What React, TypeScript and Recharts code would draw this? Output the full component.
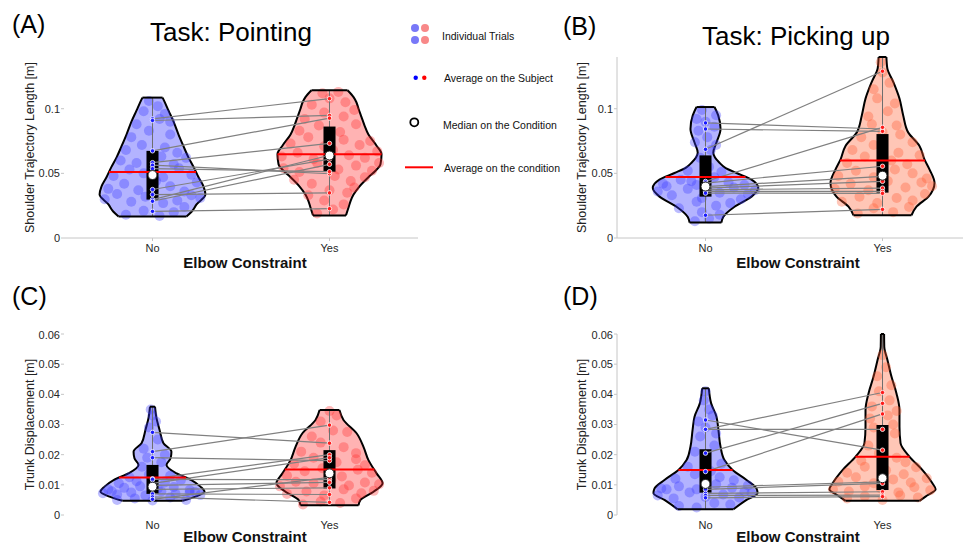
import React from 'react';
import { ComposedChart, Area, Scatter, XAxis, YAxis, ReferenceLine } from 'recharts';

type Pair = [number, number];

const categories = ['No', 'Yes'];
const shoulderTicks = [0, 0.05, 0.1];
const trunkTicks = [0, 0.01, 0.02, 0.03, 0.04, 0.05, 0.06];

// violin outlines: [value, half width in category units]
const aNoViolin: Pair[] = [[0.0167, 0.192], [0.0205, 0.222], [0.026, 0.249], [0.0336, 0.299], [0.04, 0.288], [0.047, 0.26], [0.055, 0.232], [0.0624, 0.203], [0.071, 0.175], [0.08, 0.147], [0.09, 0.119], [0.0987, 0.09], [0.104, 0.073], [0.1086, 0.057]];
const aYesViolin: Pair[] = [[0.0175, 0.093], [0.0234, 0.107], [0.029, 0.12], [0.0336, 0.136], [0.04, 0.17], [0.047, 0.22], [0.052, 0.26], [0.057, 0.288], [0.0648, 0.294], [0.0714, 0.266], [0.08, 0.22], [0.087, 0.198], [0.0935, 0.181], [0.1, 0.164], [0.105, 0.152], [0.109, 0.136], [0.1143, 0.102]];
const bNoViolin: Pair[] = [[0.0119, 0.09], [0.0163, 0.1], [0.0242, 0.164], [0.032, 0.26], [0.0386, 0.298], [0.0451, 0.26], [0.0503, 0.175], [0.0545, 0.11], [0.0582, 0.079], [0.066, 0.044], [0.0739, 0.062], [0.0843, 0.085], [0.0948, 0.072], [0.1013, 0.051]];
const bYesViolin: Pair[] = [[0.0176, 0.164], [0.0242, 0.192], [0.032, 0.26], [0.0425, 0.294], [0.0529, 0.266], [0.0608, 0.237], [0.0712, 0.209], [0.0817, 0.145], [0.0948, 0.117], [0.1078, 0.096], [0.121, 0.06], [0.1314, 0.027], [0.14, 0.022]];
const cNoViolin: Pair[] = [[0.0047, 0.17], [0.0061, 0.243], [0.0077, 0.294], [0.0094, 0.271], [0.0116, 0.22], [0.0138, 0.136], [0.0166, 0.079], [0.0188, 0.102], [0.021, 0.107], [0.0238, 0.062], [0.0282, 0.04], [0.0326, 0.021], [0.0359, 0.014]];
const cYesViolin: Pair[] = [[0.0032, 0.164], [0.005, 0.175], [0.0077, 0.249], [0.0105, 0.3], [0.0138, 0.266], [0.0182, 0.22], [0.0226, 0.192], [0.0271, 0.153], [0.0315, 0.079], [0.0348, 0.056]];
const dNoViolin: Pair[] = [[0.0019, 0.158], [0.005, 0.232], [0.0072, 0.294], [0.0088, 0.288], [0.0116, 0.232], [0.0149, 0.153], [0.0182, 0.107], [0.0226, 0.085], [0.0282, 0.073], [0.0326, 0.062], [0.037, 0.032], [0.042, 0.019]];
const dYesViolin: Pair[] = [[0.0047, 0.209], [0.0061, 0.243], [0.0085, 0.3], [0.0105, 0.282], [0.0149, 0.226], [0.0193, 0.153], [0.0238, 0.102], [0.0293, 0.096], [0.0348, 0.096], [0.0403, 0.079], [0.0458, 0.051], [0.0514, 0.028], [0.0558, 0.01], [0.06, 0.009]];

// individual trials: [jitter, value]
const aNoTrials: Pair[] = [[-0.15, 0.018], [-0.05, 0.021], [0.04, 0.017], [0.12, 0.02], [0.18, 0.024], [-0.27, 0.03], [-0.2, 0.034], [-0.12, 0.028], [-0.04, 0.032], [0.06, 0.027], [0.14, 0.029], [0.22, 0.033], [0.27, 0.031], [-0.25, 0.038], [-0.16, 0.042], [-0.08, 0.037], [0.02, 0.044], [0.1, 0.04], [0.18, 0.036], [0.25, 0.043], [-0.22, 0.048], [-0.13, 0.053], [-0.05, 0.05], [0.06, 0.047], [0.15, 0.054], [0.22, 0.049], [-0.18, 0.06], [-0.09, 0.058], [0.05, 0.063], [0.12, 0.057], [0.19, 0.062], [-0.15, 0.068], [-0.06, 0.072], [0.07, 0.07], [0.14, 0.066], [-0.12, 0.078], [-0.02, 0.083], [0.1, 0.08], [-0.09, 0.088], [0.04, 0.092], [0.1, 0.09], [-0.05, 0.098], [0.03, 0.102], [0.07, 0.096], [-0.02, 0.106]];
const aYesTrials: Pair[] = [[-0.07, 0.019], [0.02, 0.022], [0.08, 0.026], [-0.03, 0.029], [-0.12, 0.033], [0, 0.037], [0.1, 0.035], [0.14, 0.039], [-0.2, 0.045], [-0.1, 0.042], [0.03, 0.048], [0.12, 0.044], [0.2, 0.047], [-0.26, 0.054], [-0.17, 0.051], [-0.07, 0.058], [0.05, 0.053], [0.15, 0.056], [0.24, 0.052], [0.28, 0.058], [-0.27, 0.063], [-0.18, 0.066], [-0.09, 0.061], [0.02, 0.068], [0.11, 0.064], [0.2, 0.062], [0.27, 0.067], [-0.22, 0.073], [-0.12, 0.078], [-0.03, 0.071], [0.08, 0.076], [0.17, 0.072], [0.23, 0.075], [-0.17, 0.083], [-0.06, 0.087], [0.06, 0.082], [0.15, 0.088], [-0.14, 0.092], [-0.03, 0.097], [0.08, 0.094], [0.14, 0.099], [-0.1, 0.103], [0, 0.108], [0.09, 0.105], [-0.04, 0.112], [0.05, 0.113]];
const bNoTrials: Pair[] = [[-0.06, 0.013], [0.02, 0.015], [0.08, 0.018], [-0.02, 0.02], [-0.15, 0.023], [-0.05, 0.028], [0.06, 0.025], [0.14, 0.027], [-0.27, 0.036], [-0.19, 0.033], [-0.1, 0.038], [-0.02, 0.031], [0.08, 0.035], [0.16, 0.039], [0.24, 0.034], [0.28, 0.037], [-0.24, 0.042], [-0.14, 0.045], [-0.05, 0.041], [0.05, 0.047], [0.13, 0.043], [0.22, 0.041], [-0.22, 0.04], [0.2, 0.03], [-0.08, 0.044], [-0.1, 0.052], [0.02, 0.055], [0.09, 0.051], [-0.03, 0.062], [0.03, 0.068], [-0.06, 0.074], [0.01, 0.078], [0.06, 0.072], [-0.04, 0.083], [0.05, 0.086], [0, 0.09], [-0.05, 0.092], [0.06, 0.095], [-0.02, 0.099]];
const bYesTrials: Pair[] = [[-0.14, 0.019], [-0.05, 0.023], [0.06, 0.02], [0.15, 0.024], [-0.23, 0.028], [-0.13, 0.032], [-0.03, 0.027], [0.08, 0.031], [0.17, 0.029], [0.24, 0.034], [-0.27, 0.038], [-0.18, 0.042], [-0.08, 0.037], [0.03, 0.044], [0.13, 0.039], [0.22, 0.043], [0.28, 0.04], [-0.25, 0.048], [-0.15, 0.052], [-0.05, 0.047], [0.07, 0.053], [0.17, 0.05], [0.25, 0.046], [-0.2, 0.058], [-0.1, 0.063], [0.05, 0.06], [0.14, 0.057], [0.21, 0.064], [-0.17, 0.068], [-0.05, 0.072], [0.09, 0.066], [0.17, 0.074], [-0.12, 0.078], [0, 0.082], [0.1, 0.08], [-0.06, 0.088], [0.08, 0.087], [-0.08, 0.094], [0.03, 0.098], [0.07, 0.104], [-0.03, 0.108], [-0.05, 0.115], [0.04, 0.12], [0, 0.128], [-0.01, 0.136]];
const cNoTrials: Pair[] = [[-0.2, 0.005], [-0.1, 0.0055], [0, 0.0048], [0.1, 0.0058], [0.19, 0.005], [-0.28, 0.0072], [-0.2, 0.0068], [-0.12, 0.0075], [-0.04, 0.0065], [0.05, 0.0078], [0.13, 0.007], [0.21, 0.0074], [0.27, 0.0066], [-0.25, 0.0085], [-0.16, 0.009], [-0.07, 0.0095], [0.03, 0.0088], [0.12, 0.0093], [0.21, 0.0083], [-0.19, 0.0105], [-0.09, 0.0112], [0.07, 0.0108], [0.16, 0.0115], [-0.13, 0.0125], [-0.02, 0.0135], [0.1, 0.013], [-0.06, 0.016], [0.05, 0.0175], [-0.03, 0.019], [0.07, 0.02], [-0.05, 0.022], [0.03, 0.025], [-0.02, 0.029], [0.02, 0.031], [0, 0.033], [-0.01, 0.035], [0.24, 0.0076], [-0.23, 0.0079], [0, 0.0103]];
const cYesTrials: Pair[] = [[-0.15, 0.0035], [-0.05, 0.0045], [0.06, 0.004], [0.15, 0.0055], [-0.24, 0.007], [-0.13, 0.0078], [-0.03, 0.0065], [0.08, 0.0085], [0.18, 0.0072], [0.25, 0.008], [-0.28, 0.0095], [-0.19, 0.011], [-0.09, 0.0105], [0.01, 0.0115], [0.11, 0.0098], [0.2, 0.0108], [0.28, 0.0102], [-0.24, 0.013], [-0.14, 0.0145], [-0.04, 0.0155], [0.07, 0.0128], [0.16, 0.015], [0.24, 0.014], [-0.2, 0.017], [-0.09, 0.019], [0.04, 0.0175], [0.15, 0.0185], [0.2, 0.0165], [-0.16, 0.021], [-0.05, 0.024], [0.08, 0.0225], [0.15, 0.0205], [-0.1, 0.026], [0.02, 0.028], [0.1, 0.0275], [-0.05, 0.031], [0.04, 0.033], [0, 0.0345]];
const dNoTrials: Pair[] = [[-0.15, 0.003], [-0.05, 0.0025], [0.05, 0.004], [0.14, 0.0035], [-0.27, 0.0065], [-0.18, 0.0055], [-0.09, 0.0075], [0, 0.006], [0.1, 0.0068], [0.19, 0.0058], [0.26, 0.0072], [-0.25, 0.0088], [-0.15, 0.0095], [-0.05, 0.0085], [0.06, 0.0102], [0.15, 0.009], [0.24, 0.0098], [-0.17, 0.012], [-0.06, 0.0135], [0.08, 0.0125], [0.16, 0.0115], [-0.1, 0.016], [0, 0.018], [0.09, 0.017], [-0.06, 0.021], [0.05, 0.023], [-0.03, 0.026], [0.06, 0.027], [0, 0.029], [-0.04, 0.031], [0.04, 0.033], [0.02, 0.035], [-0.01, 0.038], [0, 0.041], [0.22, 0.0077], [-0.22, 0.0085], [0.03, 0.0145]];
const dYesTrials: Pair[] = [[-0.2, 0.0055], [-0.1, 0.0062], [0, 0.005], [0.1, 0.0065], [0.2, 0.0058], [-0.28, 0.0085], [-0.19, 0.0078], [-0.1, 0.0095], [-0.01, 0.0088], [0.09, 0.0075], [0.18, 0.0092], [0.27, 0.0082], [-0.25, 0.011], [-0.15, 0.0125], [-0.05, 0.0105], [0.06, 0.0118], [0.16, 0.0108], [0.25, 0.0122], [-0.2, 0.014], [-0.1, 0.016], [0.02, 0.0148], [0.12, 0.0135], [0.19, 0.0158], [-0.12, 0.018], [-0.02, 0.0205], [0.08, 0.019], [0.13, 0.0175], [-0.08, 0.023], [0, 0.025], [0.07, 0.027], [-0.05, 0.029], [0.06, 0.03], [-0.07, 0.032], [0.03, 0.033], [0.08, 0.0345], [-0.06, 0.036], [0.04, 0.038], [-0.02, 0.041], [0.05, 0.043], [-0.03, 0.046], [0.02, 0.049], [0, 0.053]];

// box [q1, q3], median and mean per condition (No, Yes)
const aQuartiles: Pair[] = [[0.0297, 0.0674], [0.0513, 0.0862]];
const aMedians = [0.0487, 0.0638];
const aMeans = [0.051, 0.0648];
const bQuartiles: Pair[] = [[0.032, 0.0639], [0.0351, 0.0804]];
const bMedians = [0.0398, 0.0482];
const bMeans = [0.0472, 0.06];
const cQuartiles: Pair[] = [[0.007, 0.0166], [0.0088, 0.0215]];
const cMedians = [0.0094, 0.0138];
const cMeans = [0.0124, 0.0151];
const dQuartiles: Pair[] = [[0.0074, 0.0218], [0.0083, 0.0298]];
const dMedians = [0.0103, 0.0122];
const dMeans = [0.0149, 0.0193];

// average on each subject: [No, Yes]
const aSubjects: Pair[] = [[0.0922, 0.1078], [0.0909, 0.0948], [0.0674, 0.0927], [0.0583, 0.0732], [0.0563, 0.0497], [0.0536, 0.0513], [0.0375, 0.061], [0.0336, 0.0349], [0.0297, 0.064], [0.0284, 0.057], [0.0206, 0.0227]];
const bSubjects: Pair[] = [[0.0686, 0.129], [0.089, 0.0843], [0.0843, 0.0825], [0.0438, 0.0856], [0.0425, 0.0555], [0.0398, 0.0477], [0.0386, 0.0438], [0.0373, 0.0386], [0.036, 0.036], [0.0347, 0.0345], [0.0176, 0.0221]];
const cSubjects: Pair[] = [[0.0274, 0.0238], [0.021, 0.0298], [0.019, 0.018], [0.012, 0.02], [0.0118, 0.0117], [0.0105, 0.019], [0.0098, 0.0108], [0.0085, 0.009], [0.007, 0.0068], [0.006, 0.0042], [0.0052, 0.0125]];
const dSubjects: Pair[] = [[0.0315, 0.0215], [0.0284, 0.0406], [0.0284, 0.0284], [0.0205, 0.037], [0.0144, 0.0335], [0.0092, 0.011], [0.0085, 0.0105], [0.0072, 0.0077], [0.0065, 0.0066], [0.0057, 0.0061]];

const blueFill = '#b3b3ff';
const blueDot = '#3a3aff';
const redFill = '#ffb3b3';
const redDot = '#ff3030';
const salmonFill = '#ffc6b6';
const salmonDot = '#ff5a33';
const subjectColors = ['#1a1aff', '#ff1a1a'];

const BOX_HALF = 0.034;
const PLOT_W = 354;
const PLOT_H = 181;

function widthAt(shape: Pair[], v: number) {
  for (let i = 1; i < shape.length; i++) {
    const [y0, w0] = shape[i - 1];
    const [y1, w1] = shape[i];
    if (v >= y0 && v <= y1) return w0 + ((w1 - w0) * (v - y0)) / (y1 - y0);
  }
  return 0;
}

interface PanelProps {
  left: number;
  top: number;
  axisWidth: number;
  domain: [number, number];
  ticks: number[];
  yLabel: string;
  xLine: boolean;
  yLine: boolean;
  labelOffset: number;
  violins: Pair[][];
  trials: Pair[][];
  quartiles: Pair[];
  medians: number[];
  means: number[];
  subjects: Pair[];
  fills: string[];
  dots: string[];
}

function Panel(p: PanelProps) {
  const axisStroke = '#c6c6c6';
  return (
    <div style={{ position: 'absolute', left: p.left, top: p.top }}>
      <ComposedChart
        layout="vertical"
        width={p.axisWidth + PLOT_W + 10}
        height={5 + PLOT_H + 30 + 8}
        margin={{ top: 5, right: 10, bottom: 8, left: 0 }}
      >
        <XAxis
          type="number"
          dataKey="x"
          domain={[0.5, 2.5]}
          ticks={[1, 2]}
          allowDataOverflow
          height={30}
          tickFormatter={(v: number) => categories[v - 1]}
          axisLine={p.xLine ? { stroke: axisStroke } : false}
          tickLine={p.xLine ? { stroke: axisStroke } : false}
          tickSize={3}
          tickMargin={3}
          tick={{ fontSize: 11, fill: '#262626' }}
          label={{ value: 'Elbow Constraint', position: 'insideBottom', offset: p.labelOffset, dx: 4, fontSize: 15, fontWeight: 700, fill: '#111' }}
        />
        <YAxis
          type="number"
          dataKey="y"
          domain={p.domain}
          ticks={p.ticks}
          reversed
          allowDataOverflow
          width={p.axisWidth}
          axisLine={p.yLine ? { stroke: axisStroke } : false}
          tickLine={{ stroke: axisStroke }}
          tickSize={3}
          tickMargin={1}
          tick={{ fontSize: 11, fill: '#262626' }}
          label={{ value: p.yLabel, angle: -90, position: 'center', fontSize: 12.5, fill: '#222' }}
        />
        {p.violins.map((shape, i) => (
          <Area
            key={`violin${i}`}
            data={shape.map(([y, w]) => ({ y, r: [i + 1 - w, i + 1 + w] }))}
            dataKey="r"
            type="monotone"
            fill={p.fills[i]}
            fillOpacity={1}
            stroke="#000"
            strokeWidth={2}
            isAnimationActive={false}
            zIndex={100}
          />
        ))}
        {p.trials.map((pts, i) => (
          <Scatter
            key={`trials${i}`}
            data={pts.map(([dx, y]) => ({ x: i + 1 + dx, y }))}
            fill={p.dots[i]}
            isAnimationActive={false}
            zIndex={110}
            shape={(s: any) => <circle cx={s.cx} cy={s.cy} r={5} fill={p.dots[i]} fillOpacity={0.34} />}
          />
        ))}
        {p.violins.map((shape, i) => (
          <ReferenceLine
            key={`whisker${i}`}
            segment={[{ x: i + 1, y: shape[0][0] }, { x: i + 1, y: shape[shape.length - 1][0] }]}
            stroke="#6e6e6e"
            strokeWidth={1}
            ifOverflow="visible"
            zIndex={120}
          />
        ))}
        {p.quartiles.map(([q1, q3], i) => (
          <Area
            key={`box${i}`}
            data={[
              { y: q1, r: [i + 1 - BOX_HALF, i + 1 + BOX_HALF] },
              { y: q3, r: [i + 1 - BOX_HALF, i + 1 + BOX_HALF] },
            ]}
            dataKey="r"
            type="linear"
            fill="#000"
            fillOpacity={1}
            stroke="none"
            isAnimationActive={false}
            zIndex={130}
          />
        ))}
        {p.subjects.map(([a, b], k) => (
          <ReferenceLine
            key={`subject${k}`}
            segment={[{ x: 1, y: a }, { x: 2, y: b }]}
            stroke="#808080"
            strokeWidth={1.2}
            ifOverflow="visible"
            zIndex={140}
          />
        ))}
        {p.means.map((m, i) => {
          const w = widthAt(p.violins[i], m);
          return (
            <ReferenceLine
              key={`mean${i}`}
              segment={[{ x: i + 1 - w, y: m }, { x: i + 1 + w, y: m }]}
              stroke="#ff0000"
              strokeWidth={2}
              ifOverflow="visible"
              zIndex={150}
            />
          );
        })}
        {p.violins.map((shape, i) =>
          [shape[0], shape[shape.length - 1]].map(([y, w], j) => (
            <ReferenceLine
              key={`cap${i}-${j}`}
              segment={[{ x: i + 1 - w, y }, { x: i + 1 + w, y }]}
              stroke="#000"
              strokeWidth={2}
              ifOverflow="visible"
              zIndex={160}
            />
          ))
        )}
        {[0, 1].map((i) => (
          <Scatter
            key={`avg${i}`}
            data={p.subjects.map((s) => ({ x: i + 1, y: s[i] }))}
            fill={subjectColors[i]}
            isAnimationActive={false}
            zIndex={170}
            shape={(s: any) => <circle cx={s.cx} cy={s.cy} r={2.2} fill={subjectColors[i]} stroke="#fff" strokeWidth={0.8} />}
          />
        ))}
        <Scatter
          data={p.medians.map((m, i) => ({ x: i + 1, y: m }))}
          fill="#fff"
          isAnimationActive={false}
          zIndex={180}
          shape={(s: any) => <circle cx={s.cx} cy={s.cy} r={4.5} fill="#fff" stroke="#222" strokeWidth={1} />}
        />
      </ComposedChart>
    </div>
  );
}

export default function App() {
  return (
    <div
      style={{
        position: 'fixed',
        left: 0,
        top: 0,
        width: 963,
        height: 547,
        overflow: 'hidden',
        background: '#fff',
        fontFamily: "'Liberation Sans', Arial, Helvetica, sans-serif",
      }}
    >
      <Panel left={-4} top={52} axisWidth={68} domain={[0, 0.14]} ticks={shoulderTicks} yLabel="Shoulder Trajectory Length [m]"
        xLine yLine={false} labelOffset={0} violins={[aNoViolin, aYesViolin]} trials={[aNoTrials, aYesTrials]}
        quartiles={aQuartiles} medians={aMedians} means={aMeans} subjects={aSubjects} fills={[blueFill, redFill]} dots={[blueDot, redDot]} />
      <Panel left={547} top={52} axisWidth={70} domain={[0, 0.14]} ticks={shoulderTicks} yLabel="Shoulder Trajectory Length [m]"
        xLine yLine labelOffset={0} violins={[bNoViolin, bYesViolin]} trials={[bNoTrials, bYesTrials]}
        quartiles={bQuartiles} medians={bMedians} means={bMeans} subjects={bSubjects} fills={[blueFill, salmonFill]} dots={[blueDot, salmonDot]} />
      <Panel left={-4} top={329} axisWidth={68} domain={[0, 0.06]} ticks={trunkTicks} yLabel="Trunk Displacement [m]"
        xLine={false} yLine={false} labelOffset={3} violins={[cNoViolin, cYesViolin]} trials={[cNoTrials, cYesTrials]}
        quartiles={cQuartiles} medians={cMedians} means={cMeans} subjects={cSubjects} fills={[blueFill, redFill]} dots={[blueDot, redDot]} />
      <Panel left={547} top={329} axisWidth={70} domain={[0, 0.06]} ticks={trunkTicks} yLabel="Trunk Displacement [m]"
        xLine={false} yLine labelOffset={3} violins={[dNoViolin, dYesViolin]} trials={[dNoTrials, dYesTrials]}
        quartiles={dQuartiles} medians={dMedians} means={dMeans} subjects={dSubjects} fills={[blueFill, salmonFill]} dots={[blueDot, salmonDot]} />
      <svg width={963} height={547} style={{ position: 'absolute', left: 0, top: 0, pointerEvents: 'none' }}>
        <g fill="#000">
          <text x={12} y={33} fontSize={25}>(A)</text>
          <text x={231} y={41} fontSize={26} textAnchor="middle">Task: Pointing</text>
          <text x={563} y={35} fontSize={25}>(B)</text>
          <text x={796} y={45} fontSize={26} textAnchor="middle">Task: Picking up</text>
          <text x={12} y={305} fontSize={25}>(C)</text>
          <text x={563} y={305} fontSize={25}>(D)</text>
        </g>
        <g>
          <circle cx={415} cy={28} r={4} fill="#7878f8" />
          <circle cx={425} cy={28} r={4} fill="#f88888" />
          <circle cx={415} cy={40} r={4} fill="#7878f8" />
          <circle cx={425} cy={40} r={4} fill="#f88888" />
          <text x={442} y={40} fontSize={10.5} fill="#111">Individual Trials</text>
          <circle cx={415.7} cy={77.7} r={2.2} fill="#0000ff" />
          <circle cx={424.3} cy={77.7} r={2.2} fill="#ff0000" />
          <text x={444} y={82} fontSize={10.5} fill="#111">Average on the Subject</text>
          <circle cx={414.3} cy={122.3} r={4} fill="#fff" stroke="#000" strokeWidth={1.8} />
          <text x={443} y={129} fontSize={10.5} fill="#111">Median on the Condition</text>
          <line x1={405} x2={433} y1={167.3} y2={167.3} stroke="#ff0000" strokeWidth={2} />
          <text x={444} y={172} fontSize={10.5} fill="#111">Average on the condition</text>
        </g>
      </svg>
    </div>
  );
}
